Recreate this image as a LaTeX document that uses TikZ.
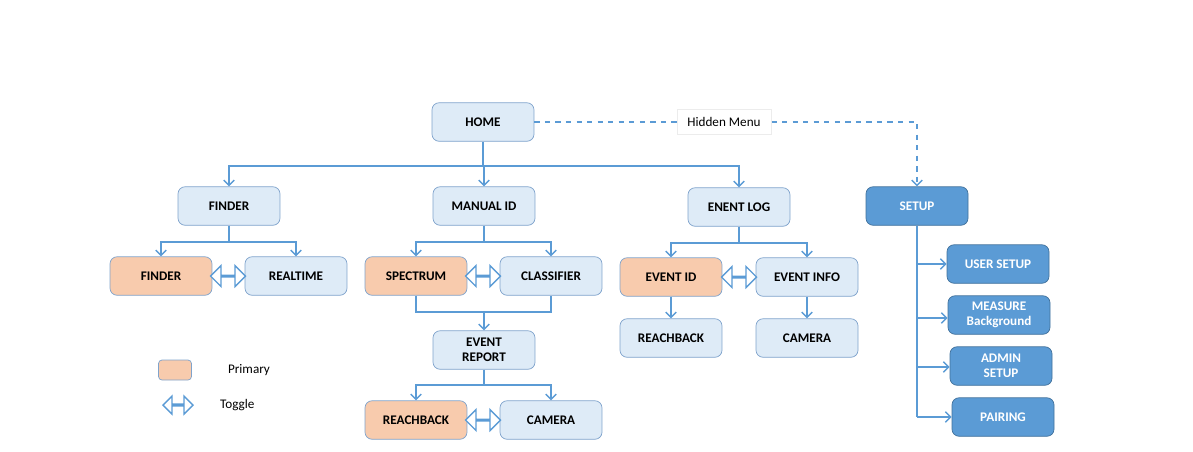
\documentclass[tikz,border=0pt]{standalone}
\usepackage{fontspec}
\setmainfont{Carlito}
\usepackage{tikz}
\usetikzlibrary{calc,positioning,shapes.arrows,arrows.meta}
\definecolor{lineblue}{HTML}{5B9BD5}
\definecolor{boxedge}{HTML}{7FA3CC}
\definecolor{boxfill}{HTML}{DEEBF7}
\definecolor{primfill}{HTML}{F8CBAD}
\definecolor{setupfill}{HTML}{5B9BD5}
\definecolor{setupedge}{HTML}{41719C}
\tikzset{
	menu/.style={draw=boxedge, fill=boxfill, rounded corners=4pt, minimum width=2.04cm, minimum height=0.77cm, align=center, font=\fontsize{7.5}{8.5}\selectfont\bfseries, inner sep=1pt},
	prim/.style={menu, fill=primfill},
	setup/.style={menu, draw=setupedge, fill=setupfill, text=white},
	toggle/.style={double arrow, draw=lineblue, fill=white, thick, minimum height=0.7cm, minimum width=0.42cm, double arrow head extend=0.17cm, inner sep=0pt},
	link/.style={draw=lineblue, thick},
	tip/.style={link, -{Straight Barb[length=3pt,width=6pt]}}
}
\begin{document}
\begin{tikzpicture}[x=0.02cm, y=-0.02cm]
	\useasboundingbox (0,0) rectangle (1193,451);

	% top level
	\node[menu] (home) at (483,122) {HOME};
	\node[menu] (finder) at (229,206) {FINDER};
	\node[menu] (manual) at (484,206) {MANUAL ID};
	\node[menu] (log) at (739,207) {ENENT LOG};
	\node[setup] (setup) at (917,206) {SETUP};

	% second level
	\node[prim] (finderp) at (161,276) {FINDER};
	\node[menu] (realtime) at (296,276) {REALTIME};
	\node[prim] (spectrum) at (416,276) {SPECTRUM};
	\node[menu] (classifier) at (551,276) {CLASSIFIER};
	\node[prim] (eventid) at (671,277) {EVENT ID};
	\node[menu] (eventinfo) at (807,277) {EVENT INFO};
	\node[menu] (reachlog) at (671,338) {REACHBACK};
	\node[menu] (camlog) at (807,338) {CAMERA};
	\node[menu] (report) at (484,350) {EVENT\\REPORT};
	\node[prim] (reachrep) at (416,420) {REACHBACK};
	\node[menu] (camrep) at (551,420) {CAMERA};

	% setup menu
	\node[setup] (user) at (998,264) {USER SETUP};
	\node[setup] (measure) at (999,315) {MEASURE\\Background};
	\node[setup] (admin) at (1001,366) {ADMIN\\SETUP};
	\node[setup] (pairing) at (1003,417) {PAIRING};

	% toggles
	\node[toggle] (t1) at (228,276) {};
	\node[toggle] (t2) at (483,276) {};
	\node[toggle] (t3) at (739,277) {};
	\node[toggle] (t4) at (483,420) {};

	% tree links
	\coordinate (h1) at (483,166);
	\draw[link] (home.south) -- (h1);
	\draw[tip] (h1) -| (finder.north);
	\draw[tip] (h1) -| (manual.north);
	\draw[tip] (h1) -| (log.north);

	\coordinate (f1) at (229,242);
	\draw[link] (finder.south) -- (f1);
	\draw[tip] (f1) -| (finderp.north);
	\draw[tip] (f1) -| (realtime.north);

	\coordinate (m1) at (484,242);
	\draw[link] (manual.south) -- (m1);
	\draw[tip] (m1) -| (spectrum.north);
	\draw[tip] (m1) -| (classifier.north);

	\coordinate (l1) at (739,243);
	\draw[link] (log.south) -- (l1);
	\draw[tip] (l1) -| (eventid.north);
	\draw[tip] (l1) -| (eventinfo.north);

	\coordinate (s1) at (484,312);
	\draw[link] (spectrum.south) |- (s1) -| (classifier.south);
	\draw[tip] (s1) -- (report.north);

	\coordinate (r1) at (484,385);
	\draw[link] (report.south) -- (r1);
	\draw[tip] (r1) -| (reachrep.north);
	\draw[tip] (r1) -| (camrep.north);

	\draw[tip] (eventid.south) -- (reachlog.north);
	\draw[tip] (eventinfo.south) -- (camlog.north);

	\coordinate (p1) at (917,417);
	\draw[link] (setup.south) -- (p1);
	\draw[tip] (setup.south |- user.west) -- (user.west);
	\draw[tip] (setup.south |- 0,318) -- (measure.west |- 0,318);
	\draw[tip] (setup.south |- 0,367) -- (admin.west |- 0,367);
	\draw[tip] (p1) -- (pairing.west |- p1);

	% hidden menu
	\node[draw=gray!15, fill=white, font=\fontsize{7.5}{8.5}\selectfont, minimum height=0.5cm, inner xsep=6pt] (hidden) at (724,122) {Hidden Menu};
	\draw[link, dashed] (home.east) -- (hidden.west);
	\draw[tip, dashed] (hidden.east) -| (setup.north);

	% legend
	\node[prim, minimum width=0.66cm, minimum height=0.4cm, rounded corners=2pt] (lprim) at (175,370) {};
	\node[right=0.6cm of lprim, font=\fontsize{7.5}{8.5}\selectfont] (lprimtext) {Primary};
	\node[toggle, minimum height=0.6cm, minimum width=0.36cm, double arrow head extend=0.14cm] (ltog) at (178,405) {};
	\node[right=0.4cm of ltog, font=\fontsize{7.5}{8.5}\selectfont] (ltogtext) {Toggle};
\end{tikzpicture}
\end{document}
